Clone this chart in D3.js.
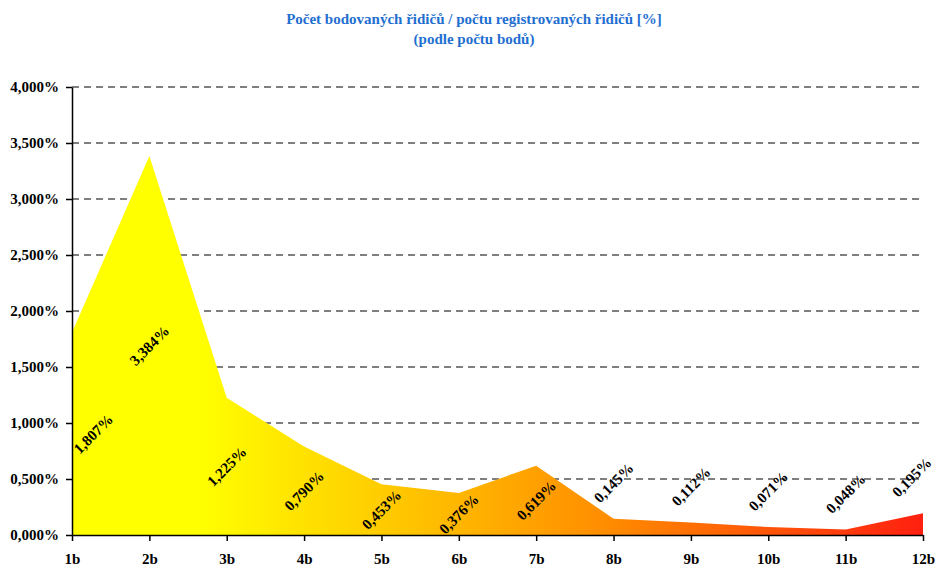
<!DOCTYPE html>
<html>
<head>
<meta charset="utf-8">
<script src="https://cdn.jsdelivr.net/npm/d3@7"></script>
<style>
  body { margin: 0; background: #fff; }
  svg { display: block; font-family: "Liberation Serif", "Times New Roman", serif; }
  .title { fill: #1f6fd1; font-weight: bold; font-size: 15px; }
  .axis text { font-family: "Liberation Serif", "Times New Roman", serif; font-weight: bold; font-size: 15px; fill: #000; }
  .axis line, .axis path { stroke: #000; stroke-width: 1.5px; }
  .grid-line { stroke: #000; stroke-width: 1px; stroke-dasharray: 7 5; }
  .value-label { font-weight: bold; font-size: 15px; fill: #000; }
</style>
</head>
<body>
<svg id="chart" width="938" height="567"></svg>
<script>
const categories = ["1b", "2b", "3b", "4b", "5b", "6b", "7b", "8b", "9b", "10b", "11b", "12b"];
const shares = [1.807, 3.384, 1.225, 0.790, 0.453, 0.376, 0.619, 0.145, 0.112, 0.071, 0.048, 0.195];
const yTicks = [0, 0.5, 1, 1.5, 2, 2.5, 3, 3.5, 4];
const titleLines = ["Počet bodovaných řidičů / počtu registrovaných řidičů [%]", "(podle počtu bodů)"];

const width = 938;
const height = 567;
const margin = { top: 87, right: 15, bottom: 32, left: 72 };

const svg = d3.select("#chart");
const data = categories.map((c, i) => ({ cat: c, value: shares[i] }));

const x = d3.scalePoint()
  .domain(categories)
  .range([margin.left, width - margin.right]);

const y = d3.scaleLinear()
  .domain([0, 4])
  .range([height - margin.bottom, margin.top]);

const fmt = (v) => d3.format(".3f")(v).replace(".", ",") + "%";

// gradient fill running left to right
const defs = svg.append("defs");
const grad = defs.append("linearGradient")
  .attr("id", "areaFill")
  .attr("gradientUnits", "userSpaceOnUse")
  .attr("x1", x.range()[0]).attr("x2", x.range()[1])
  .attr("y1", 0).attr("y2", 0);
grad.append("stop").attr("offset", 0).attr("stop-color", "#ffff00");
grad.append("stop").attr("offset", 0.15).attr("stop-color", "#ffff00");
grad.append("stop").attr("offset", 0.63).attr("stop-color", "#ff8c00");
grad.append("stop").attr("offset", 1).attr("stop-color", "#ff2010");

// title
svg.append("text")
  .attr("class", "title")
  .attr("text-anchor", "middle")
  .attr("x", 474)
  .selectAll("tspan")
  .data(titleLines)
  .join("tspan")
  .attr("x", 474)
  .attr("y", (d, i) => 24 + i * 20)
  .text((d) => d);

// dashed grid
svg.append("g")
  .selectAll("line")
  .data(yTicks.filter((t) => t > 0))
  .join("line")
  .attr("class", "grid-line")
  .attr("x1", margin.left)
  .attr("x2", width - margin.right)
  .attr("y1", (d) => y(d))
  .attr("y2", (d) => y(d));

// area
const area = d3.area()
  .x((d) => x(d.cat))
  .y0(y(0))
  .y1((d) => y(d.value))
  .curve(d3.curveLinear);

svg.append("path")
  .datum(data)
  .attr("d", area)
  .attr("fill", "url(#areaFill)");

// axes
svg.append("g")
  .attr("class", "axis")
  .attr("transform", `translate(${margin.left},0)`)
  .call(d3.axisLeft(y).tickValues(yTicks).tickFormat(fmt).tickSize(6).tickSizeOuter(0).tickPadding(7));

svg.append("g")
  .attr("class", "axis")
  .attr("transform", `translate(0,${y(0)})`)
  .call(d3.axisBottom(x).tickSize(6).tickSizeOuter(0).tickPadding(12));

// value labels, rotated
const labels = svg.append("g")
  .selectAll("text")
  .data(data)
  .join("text")
  .attr("class", "value-label")
  .attr("text-anchor", "middle")
  .attr("dy", "0.35em")
  .text((d) => fmt(d.value));

labels.each(function (d) {
  const w = this.getComputedTextLength();
  const half = (w / 2) * Math.SQRT1_2;
  const cx = Math.max(margin.left + half + 4, Math.min(width - half - 9, x(d.cat)));
  const cy = d.value >= 0.3 ? y(d.value / 2) : y(d.value) - 36;
  d3.select(this).attr("transform", `translate(${cx},${cy}) rotate(-45)`);
});
</script>
</body>
</html>
